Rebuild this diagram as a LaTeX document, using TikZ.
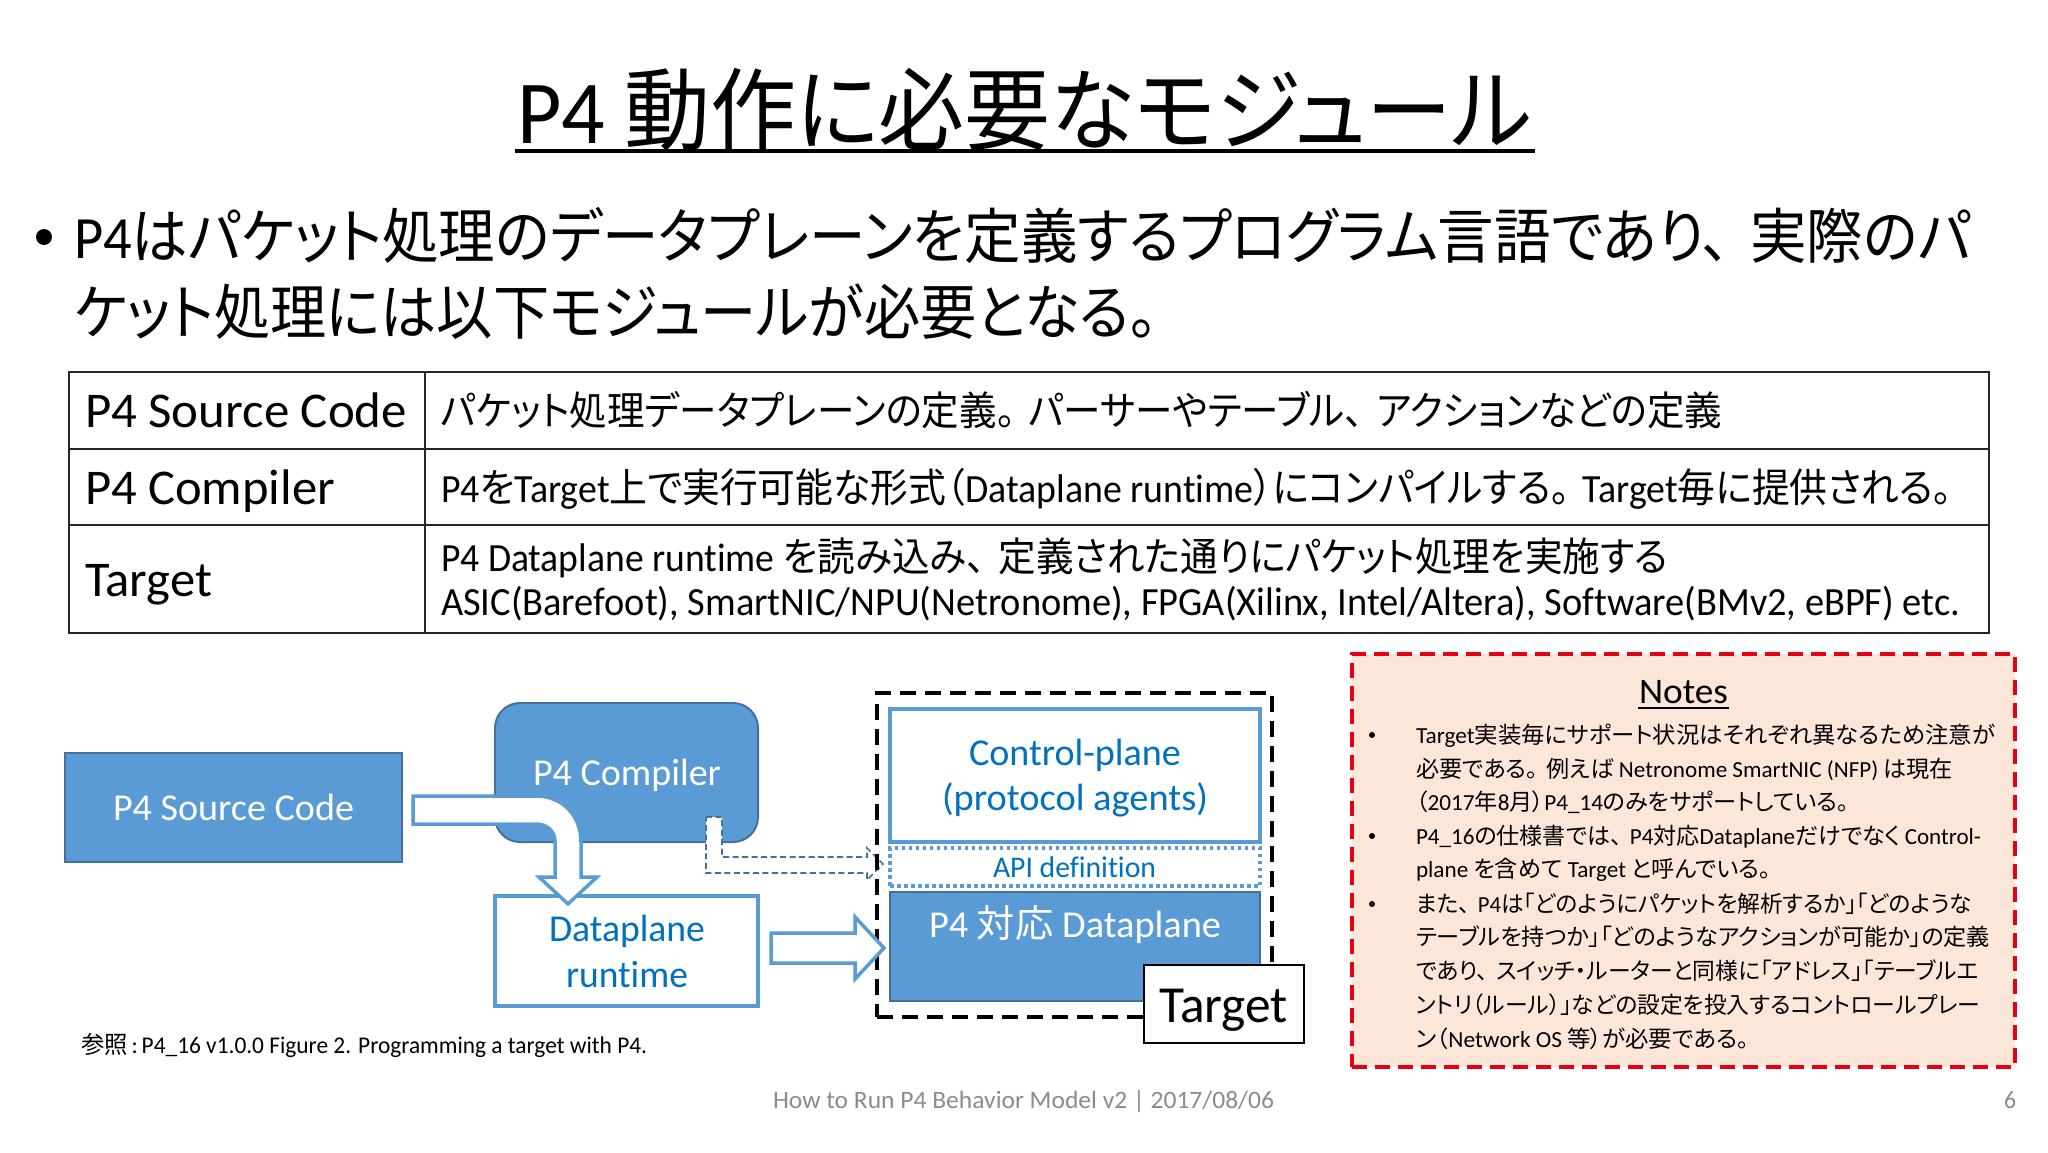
\documentclass[tikz,border=0pt]{standalone}
\usepackage{fontspec}
\usepackage{graphicx}
\setmainfont[RawFeature={-liga;-clig}]{Carlito}
\newfontfamily\jpfont[RawFeature={+palt}]{Noto Sans CJK JP}
\newcommand{\J}[1]{{\jpfont #1}}
\newcommand{\gp}{\hspace{0.35em}}
\definecolor{pblue}{HTML}{5B9BD5}
\definecolor{pdark}{HTML}{41719C}
\definecolor{ptext}{HTML}{0070C0}
\definecolor{pnote}{HTML}{FCE6DA}
\definecolor{pred}{HTML}{E60012}
\definecolor{pgrey}{HTML}{8B8B8B}
\newcommand{\txtln}[7]{\node[lab,text=#6] (#1) at (#2,#3) {\fontsize{#5pt}{#5pt}\selectfont\resizebox{#4pt}{\height}{#7}};}
\tikzset{
  lab/.style={anchor=base west,inner sep=0pt,outer sep=0pt},
  solidblue/.style={draw=pdark,line width=2pt,fill=pblue,inner sep=0pt},
  outlineblue/.style={draw=pblue,line width=3.5pt,fill=white,inner sep=0pt},
  blockarrow/.style={draw=pblue,line width=3.5pt,fill=white,line join=miter},
  dasharrow/.style={draw=pdark,line width=1.6pt,fill=white,dash pattern=on 6pt off 3.5pt},
  tableline/.style={draw=black!85,line width=2.6pt},
}
\begin{document}
\begin{tikzpicture}[x=1pt,y=-1pt]
\useasboundingbox (0,0) rectangle (2048,1152);
\fill[white] (0,0) rectangle (2048,1152);

% title
\txtln{title}{517}{143}{1015}{90}{black}{P4 \J{動作に必要なモジュール}}
\draw[line width=4.5pt] (515,151) -- (1535,151);

% bullet text
\fill[black] (44,237) circle (8);
\txtln{b1}{74}{258}{1897}{60}{black}{P4\J{はパケット処理のデータプレーンを定義するプログラム言語であり、\gp 実際のパ}}
\txtln{b2}{74}{334}{1084}{60}{black}{\J{ケット処理には以下モジュールが必要となる。}}

% table
\draw[tableline] (69,372) rectangle (1989,633);
\draw[tableline] (69,449) -- (1989,449);
\draw[tableline] (69,525) -- (1989,525);
\draw[tableline] (425,372) -- (425,633);
\txtln{t1}{85}{427}{322}{50}{black}{P4 Source Code}
\txtln{t2}{85}{504}{250}{50}{black}{P4 Compiler}
\txtln{t3}{85}{596}{127}{50}{black}{Target}
\txtln{d1}{441}{425}{1281}{40}{black}{\J{パケット処理データプレーンの定義。\gp パーサーやテーブル、\gp アクションなどの定義}}
\txtln{d2}{441}{502}{1511}{40}{black}{P4\J{を}Target\J{上で実行可能な形式（}Dataplane runtime\J{）にコンパイルする。\gp}Target\J{毎に提供される。}}
\txtln{d3}{441}{571}{1227}{40}{black}{P4 Dataplane runtime \J{を読み込み、\gp 定義された通りにパケット処理を実施する}}
\txtln{d4}{441}{615}{1519}{40}{black}{ASIC(Barefoot), SmartNIC/NPU(Netronome), FPGA(Xilinx, Intel/Altera), Software(BMv2, eBPF) etc.}

% left diagram
\node[solidblue,minimum width=337pt,minimum height=109pt] (src) at (233.5,807.5) {};
\node[solidblue,rounded corners=25pt,minimum width=263pt,minimum height=139pt] (comp) at (626.5,772.5) {};
\node[outlineblue,minimum width=263pt,minimum height=110pt] (rt) at (626.5,951) {};
\txtln{srct}{113}{820}{241}{38}{white}{P4 Source Code}
\txtln{compt}{533}{785}{188}{38}{white}{P4 Compiler}
\txtln{rt1}{549}{941}{156}{38}{ptext}{Dataplane}
\txtln{rt2}{566}{987}{122}{38}{ptext}{runtime}

% white bent arrow: source to runtime
\draw[blockarrow] (413,796) -- (536,796)
  .. controls (563,796) and (581,816) .. (581,842)
  -- (581,877) -- (597,877) -- (568,904) -- (539,877) -- (555,877) -- (555,842)
  .. controls (555,832) and (548,824) .. (536,824)
  -- (413,824) -- cycle;

% dashed arrow: compiler to API definition
\draw[dasharrow] (706,817) -- (722,817) -- (722,857) -- (867,857) -- (867,848)
  -- (883,864) -- (867,880) -- (867,873) -- (706,873) -- cycle;

% target
\node[draw=black,line width=3.5pt,dash pattern=on 16pt off 9pt,minimum width=395pt,minimum height=324pt,inner sep=0pt] (tgt) at (1074.5,855) {};
\node[outlineblue,line width=4pt,minimum width=370pt,minimum height=133pt] (ctl) at (1075,775.5) {};
\node[draw=pblue,line width=3.5pt,dash pattern=on 3.5pt off 3.5pt,minimum width=370pt,minimum height=38pt,inner sep=0pt] (api) at (1075,867) {};
\node[solidblue,minimum width=370pt,minimum height=109pt] (dp) at (1075,946.5) {};
\txtln{c1}{969}{765}{212}{38}{ptext}{Control-plane}
\txtln{c2}{942}{810}{266}{38}{ptext}{(protocol agents)}
\txtln{apit}{993}{877}{163}{30}{ptext}{API definition}
\txtln{dpt}{929}{937}{292}{38}{white}{P4 \J{対応} Dataplane}
\node[draw=black,line width=2pt,fill=white,minimum width=160pt,minimum height=78pt,inner sep=0pt] (tbox) at (1224,1004) {};
\txtln{tt}{1159}{1022}{129}{52}{black}{Target}

% arrow: runtime to dataplane
\draw[blockarrow] (771,933) -- (855,933) -- (855,917) -- (884,948) -- (855,979) -- (855,963) -- (771,963) -- cycle;

% caption
\txtln{cap}{81}{1053}{566}{24}{black}{\J{参照}\,:\,P4\_16 v1.0.0 Figure 2. Programming a target with P4.}

% notes
\node[draw=pred,fill=pnote,line width=4pt,dash pattern=on 15pt off 8pt,minimum width=663pt,minimum height=413pt,inner sep=0pt] (notes) at (1683.5,860.5) {};
\txtln{nt}{1639}{703}{89}{36}{black}{Notes}
\draw[line width=2pt] (1638,708) -- (1729,708);
\foreach \yy in {735,836,904} \fill[black] (1372,\yy) circle (3);
\txtln{n1}{1416}{743}{579}{23}{black}{Target\J{実装毎にサポート状況はそれぞれ異なるため注意が}}
\txtln{n2}{1416}{777}{537}{23}{black}{\J{必要である。\gp 例えば} Netronome SmartNIC (NFP) \J{は現在}}
\txtln{n3}{1416}{810}{433}{23}{black}{\J{（}2017\J{年}8\J{月）}P4\_14\J{のみをサポートしている。}}
\txtln{n4}{1416}{844}{565}{23}{black}{P4\_16\J{の仕様書では、\gp}P4\J{対応}Dataplane\J{だけでなく}\,Control-}
\txtln{n5}{1416}{877}{355}{23}{black}{plane \J{を含めて} Target \J{と呼んでいる。}}
\txtln{n6}{1416}{912}{556}{23}{black}{\J{また、\gp}P4\J{は「どのようにパケットを解析するか」「どのような}}
\txtln{n7}{1416}{945}{574}{23}{black}{\J{テーブルを持つか」「どのようなアクションが可能か」の定義}}
\txtln{n8}{1416}{979}{563}{23}{black}{\J{であり、\gp スイッチ・ルーターと同様に「アドレス」「テーブルエ}}
\txtln{n9}{1416}{1013}{564}{23}{black}{\J{ントリ（ルール）」などの設定を投入するコントロールプレー}}
\txtln{n10}{1416}{1047}{333}{23}{black}{\J{ン（}Network OS \J{等）が必要である。}}

% footer
\txtln{foot}{773}{1108}{501}{25}{pgrey}{How to Run P4 Behavior Model v2 | 2017/08/06}
\txtln{page}{2004}{1108}{12}{25}{pgrey}{6}
\end{tikzpicture}
\end{document}
